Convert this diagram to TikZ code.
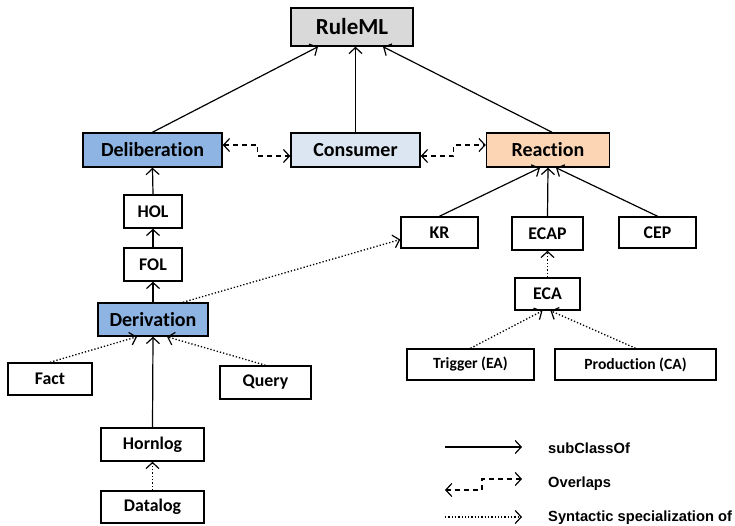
\documentclass[tikz,border=0pt]{standalone}
\usepackage{fontspec}
\setmainfont{Carlito}[Ligatures=NoCommon]
\newfontfamily\legendfont{Liberation Sans}
\usetikzlibrary{arrows.meta,calc}
\definecolor{bluebox}{HTML}{8DB4E2}
\definecolor{lightbluebox}{HTML}{DCE6F2}
\definecolor{peachbox}{HTML}{FCD5B5}
\definecolor{graybox}{HTML}{D9D9D9}
\begin{document}
\begin{tikzpicture}[x=1pt,y=-1pt,
  box/.style={draw, line width=1.5pt, inner sep=0pt, font=\fontsize{17.8}{20}\selectfont\bfseries},
  bigbox/.style={box, font=\fontsize{20}{23}\selectfont\bfseries},
  midbox/.style={box, font=\fontsize{15.6}{18}\selectfont\bfseries},
  sub/.style={-{Straight Barb[length=6pt,width=13pt,line width=1.2pt]}, line width=1.2pt},
  syn/.style={sub, line width=1.3pt, dotted},
  ovl/.style={{Straight Barb[length=6pt,width=13pt,line width=1.2pt]}-{Straight Barb[length=6pt,width=13pt,line width=1.2pt]}, line width=1.2pt, dash pattern=on 5pt off 4pt},
  legtext/.style={anchor=base west, inner sep=0pt, font=\legendfont\fontsize{14.7}{17}\selectfont\bfseries}
]
\useasboundingbox (0,0) rectangle (735,526);
% nodes
\node[bigbox, fill=graybox, minimum width=122pt, minimum height=38pt, font=\fontsize{23}{26}\selectfont\bfseries] (ruleml) at (352,27) {RuleML};
\node[bigbox, fill=bluebox, minimum width=139pt, minimum height=34pt] (delib) at (152.5,150) {Deliberation};
\node[bigbox, fill=lightbluebox, minimum width=129pt, minimum height=34pt] (consumer) at (355.5,150) {Consumer};
\node[bigbox, fill=peachbox, minimum width=123pt, minimum height=34pt] (reaction) at (548,150) {Reaction};
\node[box, fill=white, minimum width=58pt, minimum height=33pt] (hol) at (153,211.5) {HOL};
\node[box, fill=white, minimum width=58pt, minimum height=33pt] (fol) at (153,264.5) {FOL};
\node[bigbox, fill=bluebox, minimum width=110pt, minimum height=33pt] (deriv) at (153,319.5) {Derivation};
\node[box, minimum width=77pt, minimum height=31pt] (kr) at (439.5,232.5) {KR};
\node[box, minimum width=71pt, minimum height=33pt] (ecap) at (547.5,233.5) {ECAP};
\node[box, minimum width=77pt, minimum height=31pt] (cep) at (657.5,232.5) {CEP};
\node[box, minimum width=65pt, minimum height=32pt] (eca) at (547.5,294) {ECA};
\node[midbox, minimum width=127pt, minimum height=31pt] (trigger) at (470.5,364.5) {Trigger (EA)};
\node[midbox, minimum width=161pt, minimum height=31pt] (production) at (635.5,364.5) {Production (CA)};
\node[box, minimum width=84pt, minimum height=32pt] (fact) at (50,379) {Fact};
\node[box, minimum width=91pt, minimum height=33pt] (query) at (265.5,382.5) {Query};
\node[box, minimum width=103pt, minimum height=33pt] (hornlog) at (152.5,444.5) {Hornlog};
\node[box, minimum width=103pt, minimum height=32pt] (datalog) at (152.5,507) {Datalog};
% subClassOf
\draw[sub] (delib.north) -- ([xshift=-34pt]ruleml.south);
\draw[sub] (consumer.north) -- (consumer.north |- ruleml.south);
\draw[sub] ([xshift=4pt]reaction.north) -- ([xshift=31pt]ruleml.south);
\draw[sub] (hol.north) -- (delib.south);
\draw[sub] (fol.north) -- (hol.south);
\draw[sub] (deriv.north) -- (fol.south);
\draw[sub] (hornlog.north) -- (deriv.south);
\draw[sub] (kr.north) -- ([xshift=-8pt]reaction.south);
\draw[sub] (ecap.north) -- (reaction.south);
\draw[sub] (cep.north) -- ([xshift=8pt]reaction.south);
% syntactic specialization
\draw[syn] (fact.north) -- ([xshift=-16pt]deriv.south);
\draw[syn] (query.north) -- ([xshift=14pt]deriv.south);
\draw[syn] ([xshift=30pt]deriv.north) -- ([yshift=-7pt]kr.west);
\draw[syn] (datalog.north) -- (hornlog.south);
\draw[syn] (eca.north) -- (ecap.south);
\draw[syn] (trigger.north) -- ([xshift=-5pt]eca.south);
\draw[syn] (production.north) -- ([xshift=3pt]eca.south);
% overlaps
\draw[ovl] ([yshift=5pt]delib.east) -- ++(35,0) |- ([yshift=-6pt]consumer.west);
\draw[ovl] ([yshift=-6pt]consumer.east) -- ++(33,0) |- ([yshift=5pt]reaction.west);
% legend
\coordinate (l1a) at (445,447); \coordinate (l1b) at (522,447);
\coordinate (l2a) at (445,490); \coordinate (l2m) at (482,490); \coordinate (l2b) at (522,479);
\coordinate (l3a) at (445,517); \coordinate (l3b) at (522,517);
\draw[sub] (l1a) -- (l1b);
\draw[ovl] (l2a) -- (l2m) |- (l2b);
\draw[syn] (l3a) -- (l3b);
\node[legtext] (t1) at (548,453) {subClassOf};
\node[legtext] (t2) at (548,487) {Overlaps};
\node[legtext] (t3) at (548,521) {Syntactic specialization of};
\end{tikzpicture}
\end{document}
